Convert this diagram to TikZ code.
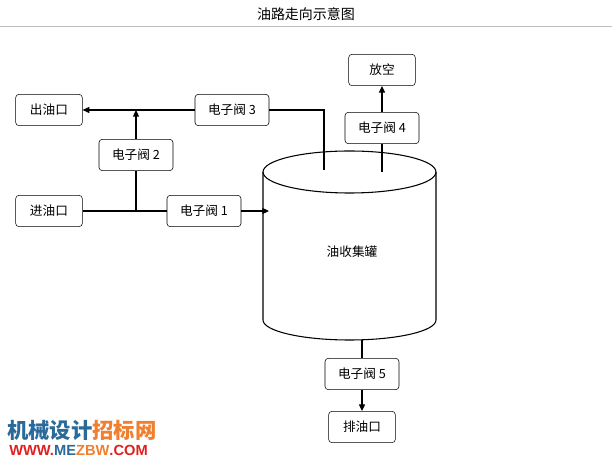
\documentclass[tikz,border=0pt]{standalone}
\usepackage{fontspec}
\setmainfont{Noto Sans CJK SC}
\newfontfamily\wmfont{Liberation Sans}
\usetikzlibrary{arrows.meta}
\begin{document}
\begin{tikzpicture}[x=0.75pt,y=-0.75pt,
  box/.style={draw,rounded corners=2.5pt,minimum width=55.5pt,minimum height=23.5pt,inner sep=0pt,font=\fontsize{9.5}{11}\selectfont},
  sbox/.style={box,minimum width=50pt},
  ln/.style={line width=0.8pt},
  arr/.style={ln,-{Triangle[length=5pt,width=4.5pt]}}]
\useasboundingbox (0,0) rectangle (612,466);
\node[font=\fontsize{10.5}{12}\selectfont] (title) at (306,14) {油路走向示意图};
\draw[gray!50,line width=1pt] (0,26.5) -- (612,26.5);
\node[sbox] (out) at (49,110) {出油口};
\node[sbox] (in) at (49,211) {进油口};
\node[box] (v3) at (232,110) {电子阀 3};
\node[box] (v2) at (136,155) {电子阀 2};
\node[box] (v1) at (204,211) {电子阀 1};
\node[sbox] (vent) at (382,70) {放空};
\node[box] (v4) at (382,128) {电子阀 4};
\node[box] (v5) at (362,374) {电子阀 5};
\node[sbox] (drain) at (362,427) {排油口};
% cylinder
\draw[ln] (263,172) -- (263,320) arc[start angle=180,end angle=0,x radius=86.5,y radius=20] -- (436,172);
\draw[ln] (349.5,172) ellipse[x radius=86.5,y radius=21];
\node[font=\fontsize{9.5}{11}\selectfont] (tank) at (352,252) {油收集罐};
\coordinate (j1) at (136,211);
\coordinate (j2) at (136,110);
\coordinate (tin) at (269,211);
\coordinate (t3) at (324,110);
\coordinate (t3b) at (324,170);
\coordinate (t4) at (382,172);
\coordinate (t5) at (362,340);
\draw[ln] (in.east) -- (v1.west);
\draw[arr] (v1.east) -- (tin);
\draw[ln] (j1) -- (v2.south);
\draw[arr] (v2.north) -- (j2);
\draw[arr] (v3.west) -- (out.east);
\draw[ln] (v3.east) -- (t3) -- (t3b);
\draw[ln] (t4) -- (v4.south);
\draw[arr] (v4.north) -- (vent.south);
\draw[ln] (t5) -- (v5.north);
\draw[arr] (v5.south) -- (drain.north);
% watermark
\node[anchor=west,inner sep=0pt,font=\fontsize{16}{17}\selectfont\bfseries] (wm1) at (7,430) {\textcolor[HTML]{2A6A9A}{机械设计}\textcolor[HTML]{F08030}{招标网}};
\node[anchor=west,inner sep=0pt,font=\wmfont\bfseries\fontsize{11}{12}\selectfont] (wm2) at (9,450) {\textcolor[HTML]{E02020}{WWW.}\textcolor[HTML]{2A6A9A}{ME}\textcolor[HTML]{F08030}{ZBW}\textcolor[HTML]{E02020}{.COM}};
\end{tikzpicture}
\end{document}
